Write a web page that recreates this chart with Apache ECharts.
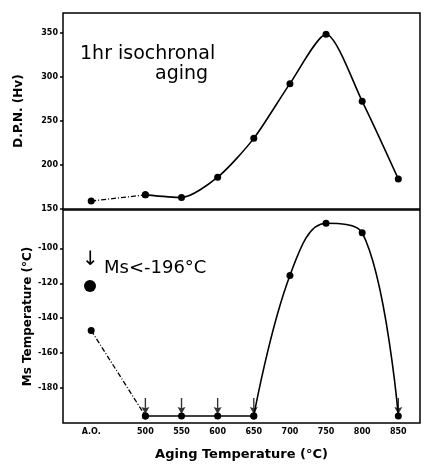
<!DOCTYPE html>
<html>
<head>
<meta charset="utf-8">
<script src="https://cdn.jsdelivr.net/npm/echarts@6/dist/echarts.min.js"></script>
<style>html,body{margin:0;padding:0;background:#fff}</style>
</head>
<body>
<div id="chart" style="width:431px;height:464px"></div>
<script>
// aging temperature, A.O. (as-quenched) plotted at 425
var temps = [425, 500, 550, 600, 650, 700, 750, 800, 850];
var tickValues = [425, 500, 550, 600, 650, 700, 750, 800, 850];
var hardness = [159, 166, 163, 186, 230, 292, 348, 272, 184];
var hardTicks = [150, 200, 250, 300, 350];
var msTemp = [-147, -196, -196, -196, -196, -115.5, -85.6, -91, -196];
var msTicks = [-180, -160, -140, -120, -100];
// points where Ms < -196
var belowFlags = [false, true, true, true, true, false, false, false, true];

function pairs(xs, ys, from, to) {
    var out = [];
    for (var i = from; i <= to; i++) out.push([xs[i], ys[i]]);
    return out;
}

var arrowData = [];
for (var i = 0; i < temps.length; i++) {
    if (belowFlags[i]) arrowData.push([temps[i], msTemp[i]]);
}

var arrowPath = 'path://M4.4,0 L5.6,0 L5.6,10 L8.5,9 L5,16 L1.5,9 L4.4,10 Z';
var labelFont = { color: '#000', fontSize: 8, fontWeight: 'bold', fontFamily: 'DejaVu Sans' };

var myChart = echarts.init(document.getElementById('chart'));
myChart.setOption({
    backgroundColor: '#fff',
    animation: false,
    grid: [
        { left: 63, right: 11, top: 13, height: 196, show: true, borderColor: '#000', borderWidth: 1.5 },
        { left: 63, right: 11, top: 210, bottom: 41, show: true, borderColor: '#000', borderWidth: 1.5 }
    ],
    xAxis: [{
        gridIndex: 0, type: 'value', min: 386, max: 880,
        axisLine: { show: false }, axisTick: { show: false },
        axisLabel: { show: false }, splitLine: { show: false }
    }, {
        gridIndex: 1, type: 'value', min: 386, max: 880,
        axisLine: { show: false }, axisTick: { show: false },
        splitLine: { show: false },
        axisLabel: Object.assign({
            customValues: tickValues, margin: 5,
            formatter: function (v) { return v === 425 ? 'A.O.' : v; }
        }, labelFont),
        name: 'Aging Temperature (°C)', nameLocation: 'middle', nameGap: 25,
        nameTextStyle: { fontSize: 13, fontWeight: 'bold', fontFamily: 'DejaVu Sans', color: '#000' }
    }],
    yAxis: [{
        gridIndex: 0, type: 'value', min: 150, max: 372,
        axisLine: { show: false },
        axisTick: { show: true, length: 3, customValues: hardTicks, lineStyle: { color: '#000', width: 1.5 } },
        splitLine: { show: false },
        axisLabel: Object.assign({ margin: 5, customValues: hardTicks }, labelFont),
        name: 'D.P.N. (Hv)', nameLocation: 'middle', nameGap: 38, nameMoveOverlap: false,
        nameTextStyle: { fontSize: 12, fontWeight: 'bold', fontFamily: 'DejaVu Sans', color: '#000' }
    }, {
        gridIndex: 1, type: 'value', min: -200, max: -78,
        axisLine: { show: false },
        axisTick: { show: true, length: 3, customValues: msTicks, lineStyle: { color: '#000', width: 1.5 } },
        splitLine: { show: false },
        axisLabel: Object.assign({ margin: 5, customValues: msTicks }, labelFont),
        name: 'Ms Temperature (°C)', nameLocation: 'middle', nameGap: 29, nameMoveOverlap: false,
        nameTextStyle: { fontSize: 12, fontWeight: 'bold', fontFamily: 'DejaVu Sans', color: '#000' }
    }],
    graphic: [
        { type: 'text', left: 80, top: 45, style: { text: '1hr isochronal', font: '19px "DejaVu Sans"', fill: '#000' } },
        { type: 'text', left: 155, top: 65, style: { text: 'aging', font: '19px "DejaVu Sans"', fill: '#000' } },
        { type: 'text', left: 82, top: 250, style: { text: '↓', font: '20px "DejaVu Sans"', fill: '#000' } },
        { type: 'text', left: 104, top: 259, style: { text: 'Ms<-196°C', font: '18px "DejaVu Sans"', fill: '#000' } },
        { type: 'circle', shape: { cx: 90, cy: 286, r: 6 }, style: { fill: '#000' } }
    ],
    series: [{
        type: 'line', xAxisIndex: 0, yAxisIndex: 0,
        data: pairs(temps, hardness, 0, 1),
        symbol: 'circle', symbolSize: 7, itemStyle: { color: '#000' },
        lineStyle: { color: '#000', width: 1.3, type: [5, 2, 1, 2] }
    }, {
        type: 'line', xAxisIndex: 0, yAxisIndex: 0,
        data: pairs(temps, hardness, 1, 8), smooth: 0.25,
        symbol: 'circle', symbolSize: 7, itemStyle: { color: '#000' },
        lineStyle: { color: '#000', width: 1.6 }
    }, {
        type: 'line', xAxisIndex: 1, yAxisIndex: 1,
        data: pairs(temps, msTemp, 0, 1),
        symbol: 'circle', symbolSize: 7, itemStyle: { color: '#000' },
        lineStyle: { color: '#000', width: 1.3, type: [5, 2, 1, 2] }
    }, {
        type: 'line', xAxisIndex: 1, yAxisIndex: 1,
        data: pairs(temps, msTemp, 1, 4),
        symbol: 'circle', symbolSize: 7, itemStyle: { color: '#000' },
        lineStyle: { color: '#000', width: 1.6 }
    }, {
        type: 'line', xAxisIndex: 1, yAxisIndex: 1,
        data: pairs(temps, msTemp, 4, 8), smooth: 0.4,
        symbol: 'circle', symbolSize: 7, itemStyle: { color: '#000' },
        lineStyle: { color: '#000', width: 1.6 }
    }, {
        type: 'scatter', xAxisIndex: 1, yAxisIndex: 1,
        data: arrowData, symbol: arrowPath, symbolSize: [8, 16],
        symbolKeepAspect: false, symbolOffset: [0, -10],
        itemStyle: { color: '#000' }
    }]
});
</script>
</body>
</html>
